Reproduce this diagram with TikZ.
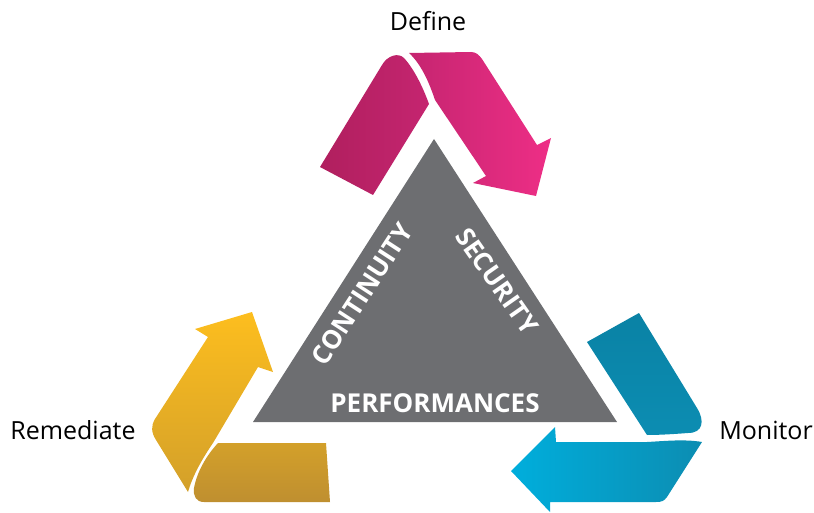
\documentclass[tikz,border=0pt]{standalone}
\usepackage{fontspec}
\setmainfont{Open Sans}
\usepackage{tikz}
\usetikzlibrary{positioning}

\definecolor{pinkdark}{HTML}{B01F5E}
\definecolor{pinkmid}{HTML}{C52570}
\definecolor{pinklight}{HTML}{EE2E86}
\definecolor{tealdark}{HTML}{0A82A5}
\definecolor{tealmid}{HTML}{0C8DB2}
\definecolor{teallight}{HTML}{00AEDC}
\definecolor{goldlight}{HTML}{FDBE1E}
\definecolor{goldmid}{HTML}{D3A02A}
\definecolor{golddark}{HTML}{BF8F30}
\definecolor{corner}{HTML}{6D6E71}

\tikzset{
  steplabel/.style={font=\fontsize{25}{30}\selectfont, text=black},
  corelabel/.style={font=\bfseries\fontsize{26}{30}\selectfont, text=white, inner sep=0pt}
}

\begin{document}
\begin{tikzpicture}[x=1pt, y=-1pt]
\useasboundingbox (0,0) rectangle (814,513);

% centre triangle
\path [fill=corner] (434,139) -- (617,422) -- (253,422) -- cycle;

% define
\shade[left color=pinkdark, right color=pinkmid] (320,167) -- (382,65) .. controls (387,56) and (398,52) .. (404,58) .. controls (415,70) and (424,90) .. (429,104) -- (373,195) -- cycle;
\shade[left color=pinkmid, right color=pinklight] (409,53) -- (471,52) .. controls (476,52) and (479,55) .. (482,59) -- (537,145) -- (551,138) -- (536,196) -- (473,183) -- (486,176) -- (435,100) .. controls (429,82) and (421,64) .. (409,53) -- cycle;

% monitor
\shade[top color=tealdark, bottom color=tealmid] (587,342) -- (639,313) -- (697,408) .. controls (705,421) and (703,433) .. (688,433) .. controls (675,434) and (660,435) .. (647,435) -- cycle;
\shade[left color=teallight, right color=tealmid] (555,427) -- (556,442) -- (647,442) .. controls (665,441) and (685,439) .. (702,442) -- (667,497) .. controls (664,501) and (662,502) .. (656,502) -- (550,502) -- (550,512) -- (511,471) -- cycle;

% remediate
\shade[top color=goldlight, bottom color=goldmid] (252,312) -- (273,372) -- (258,367) -- (213,443) .. controls (200,462) and (192,478) .. (188,492) -- (156,440) .. controls (151,432) and (151,426) .. (155,419) -- (208,337) -- (195,329) -- cycle;
\shade[top color=goldmid, bottom color=golddark] (218,443) -- (326,443) -- (330,502) -- (204,502) .. controls (196,502) and (193,496) .. (194,488) .. controls (197,472) and (206,456) .. (218,443) -- cycle;

% labels
\node [steplabel] (define) at (428,21) {Define};
\node [steplabel] (remediate) at (73,430) {Remediate};
\node [steplabel] (monitor) at (766,430) {Monitor};

\node [corelabel] (perf) at (435,403) {PERFORMANCES};
\node [corelabel, rotate=57] (cont) at (362,294) {CONTINUITY};
\node [corelabel, rotate=-55] (sec) at (497,281) {SECURITY};
\end{tikzpicture}
\end{document}
